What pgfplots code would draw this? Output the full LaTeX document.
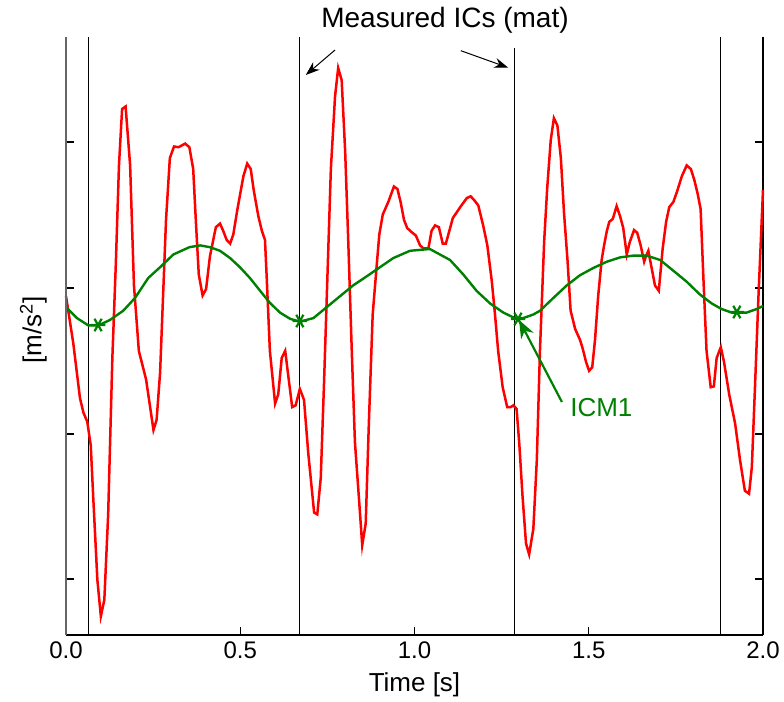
\documentclass[border=0pt]{standalone}
\usepackage{pgfplots}
\pgfplotsset{compat=1.18}
\usetikzlibrary{arrows.meta}
\usepackage{fontspec}
\setmainfont{Liberation Sans}
\definecolor{mygreen}{RGB}{0,128,0}
\begin{document}
\begin{tikzpicture}
\path[use as bounding box] (-33pt,-33.5pt) rectangle (359pt,317.5pt);
\begin{axis}[
  scale only axis, width=348.5pt, height=299pt,
  xmin=0, xmax=2, ymin=0, ymax=598,
  axis x line=bottom, axis y line=box,
  axis line style={-, black, line width=0.6pt},
  every outer x axis line/.append style={-},
  every inner x axis line/.append style={-},
  tick align=inside, major tick length=4pt,
  xtick={0,0.5,1,1.5,2}, xticklabels={0.0,0.5,1.0,1.5,2.0},
  ytick={56,201,347,493}, yticklabels={},
  tick style={black, line width=0.6pt},
  ticklabel style={font=\fontsize{12}{14}\selectfont},
  xlabel={Time [s]}, ylabel={[m/s\textsuperscript{2}]},
  label style={font=\fontsize{13}{15}\selectfont},
  xlabel style={at={(axis description cs:0.5,0)}, anchor=center, yshift=-25pt},
  ylabel style={at={(axis description cs:-0.047,0.51)}, anchor=center},
  clip=false,
]
% measured IC vertical lines
\addplot[black, line width=0.4pt] coordinates {(0.063,0) (0.063,598)};
\addplot[black, line width=0.4pt] coordinates {(0.671,0) (0.671,598)};
\addplot[black, line width=0.4pt] coordinates {(1.288,0) (1.288,587)};
\addplot[black, line width=0.4pt] coordinates {(1.879,0) (1.879,598)};
% red signal
\addplot[red, line width=1.25pt] coordinates {
(0.000,339) (0.021,291.5) (0.040,237) (0.050,222.4) (0.061,213.3) (0.071,189.7)
(0.078,138.8) (0.090,55.2) (0.100,18.8) (0.110,35.2) (0.121,120.6) (0.133,277)
(0.143,371.4) (0.152,469.6) (0.161,526) (0.171,528.5) (0.184,469.6) (0.195,349.6)
(0.209,284.2) (0.230,255.1) (0.251,205) (0.260,215.1) (0.270,262.4) (0.287,415.1)
(0.298,476.9) (0.310,488.5) (0.323,487.8) (0.342,491.4) (0.354,487.8) (0.365,466)
(0.373,411.4) (0.381,360.5) (0.392,339.5) (0.402,346) (0.413,378.7) (0.430,407.8)
(0.442,411.4) (0.451,404.2) (0.461,395.1) (0.471,391.4) (0.480,400.5) (0.492,426)
(0.509,458.7) (0.520,471.4) (0.530,466) (0.539,444.1) (0.552,418.7) (0.562,404.2)
(0.571,395.1) (0.576,356.9) (0.585,284.2) (0.600,231.5) (0.609,240.6) (0.619,277)
(0.629,284.2) (0.638,258.7) (0.649,227.9) (0.659,229.7) (0.671,246) (0.683,235.1)
(0.695,182.4) (0.712,122.4) (0.721,120.6) (0.731,157) (0.740,247.8) (0.750,356.9)
(0.760,466) (0.772,538.6) (0.781,567) (0.791,555) (0.801,484.1) (0.810,393.2)
(0.820,284.2) (0.829,193.3) (0.842,129.7) (0.850,89.7) (0.860,111.5) (0.869,211.5)
(0.880,320.5) (0.892,371.4) (0.899,400.5) (0.909,420.5) (0.925,433.2) (0.941,448.5)
(0.951,446) (0.960,433.2) (0.970,415) (0.979,407) (0.990,403.4) (1.004,399.4)
(1.016,389.6) (1.025,386.7) (1.040,386.7) (1.049,404.2) (1.059,409.6) (1.070,407.8)
(1.081,391.4) (1.090,391.4) (1.100,404.2) (1.110,416.9) (1.131,427.8) (1.150,436.9)
(1.161,438.7) (1.171,435) (1.183,429.6) (1.197,409.6) (1.209,389.6) (1.222,353.3)
(1.231,320.5) (1.240,284.2) (1.253,247.8) (1.266,227.9) (1.276,227.9) (1.284,229.7)
(1.293,226) (1.301,189.7) (1.310,138.8) (1.320,91.5) (1.329,80.6) (1.341,106.1)
(1.351,175.1) (1.360,284.2) (1.372,393.2) (1.381,448) (1.391,495) (1.400,516.8)
(1.410,509.6) (1.420,476.9) (1.429,422.3) (1.439,375) (1.448,324.2) (1.461,306)
(1.475,295.1) (1.483,286) (1.492,273.3) (1.501,264.2) (1.510,267.8) (1.518,295.1)
(1.527,338.7) (1.537,375) (1.544,389.6) (1.552,404.2) (1.559,413.2) (1.569,416.1)
(1.580,428.9) (1.590,418.7) (1.599,407) (1.609,380.5) (1.618,393.2) (1.630,404.9)
(1.639,402.3) (1.649,389.6) (1.659,373.3) (1.664,378.7) (1.671,384.2) (1.681,366)
(1.690,349.6) (1.701,344.2) (1.712,386) (1.722,413.2) (1.731,427.8) (1.743,433.2)
(1.754,444.1) (1.767,458.7) (1.781,469.6) (1.793,466) (1.803,455) (1.813,440.5)
(1.821,426) (1.829,356.9) (1.838,284.2) (1.850,247.8) (1.859,248.6) (1.867,277)
(1.879,287.8) (1.888,273.3) (1.903,240.6) (1.920,211.5) (1.934,175.1) (1.948,144.3)
(1.960,141.3) (1.968,167.9) (1.977,247.8) (1.987,338.7) (2.000,445)
};
% green curve
\addplot[mygreen, line width=1.2pt] coordinates {
(0.000,327.8) (0.031,317) (0.064,309.6) (0.093,309.6) (0.126,315) (0.164,324.2)
(0.198,337) (0.236,357) (0.270,367.8) (0.308,380.5) (0.354,387.8) (0.385,389.6)
(0.413,387.8) (0.442,384.2) (0.471,376.9) (0.499,367.8) (0.528,356.9) (0.557,344.2)
(0.585,332.2) (0.614,322.4) (0.643,316.2) (0.671,313.3) (0.710,316.9) (0.748,327.8)
(0.786,338.7) (0.824,349.6) (0.863,358.7) (0.901,367.8) (0.939,376.9) (0.987,384.2)
(1.044,386) (1.102,375) (1.140,360.5) (1.178,344.2) (1.217,331.5) (1.255,322.4)
(1.288,316.9) (1.312,316.9) (1.341,320.5) (1.360,324.2) (1.398,336.9) (1.437,349.6)
(1.475,359.8) (1.513,367) (1.552,373.3) (1.590,377.6) (1.628,379.4) (1.666,379.4)
(1.705,375) (1.743,364.2) (1.781,353.3) (1.819,340.5) (1.853,331.5) (1.881,326)
(1.910,322.4) (1.953,322.4) (1.982,326) (2.000,329)
};
% ICM1 markers
\addplot[mygreen, only marks, mark=asterisk, mark size=3.6pt, mark options={line width=1.1pt, rotate=90}] coordinates {
(0.092,310) (0.671,314) (1.297,316) (1.925,323)
};
% annotations
\node[font=\fontsize{14}{16}\selectfont, anchor=center] at (axis cs:1.0875,615) {Measured ICs (mat)};
\draw[black, line width=0.5pt, -{Stealth[length=7pt,width=5pt]}] (axis cs:0.772,585) -- (axis cs:0.688,560);
\draw[black, line width=0.5pt, -{Stealth[length=7pt,width=5pt]}] (axis cs:1.133,584.3) -- (axis cs:1.269,567.3);
\draw[mygreen, line width=1.1pt, -{Stealth[length=9pt,width=7pt]}] (axis cs:1.423,233) -- (axis cs:1.300,315);
\node[mygreen, font=\fontsize{13}{15}\selectfont, anchor=west, inner sep=0pt] at (axis cs:1.446,227) {ICM1};
\draw[gray!80!black, line width=1pt] (rel axis cs:0,0) -- (rel axis cs:0,1);
\end{axis}
\end{tikzpicture}
\end{document}
